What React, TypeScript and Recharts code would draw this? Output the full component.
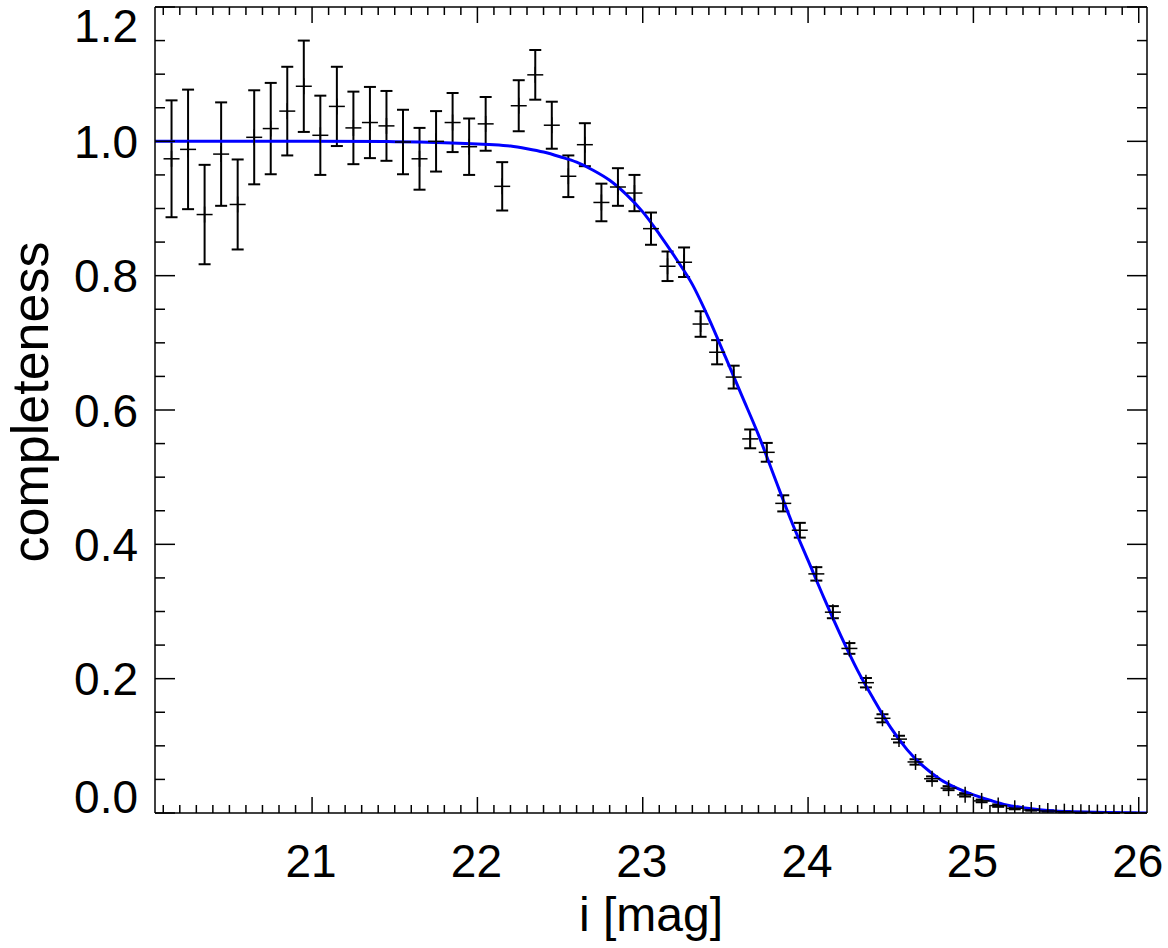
import React from 'react';
import { ComposedChart, XAxis, YAxis, Scatter, Line, ErrorBar } from 'recharts';

const FONT = '"Liberation Sans", Arial, Helvetica, sans-serif';

// Binned completeness measurements
const BIN_MAG = [
  20.15, 20.25, 20.35, 20.45, 20.55, 20.65, 20.75, 20.85, 20.95, 21.05,
  21.15, 21.25, 21.35, 21.45, 21.55, 21.65, 21.75, 21.85, 21.95, 22.05,
  22.15, 22.25, 22.35, 22.45, 22.55, 22.65, 22.75, 22.85, 22.95, 23.05,
  23.15, 23.25, 23.35, 23.45, 23.55, 23.65, 23.75, 23.85, 23.95, 24.05,
  24.15, 24.25, 24.35, 24.45, 24.55, 24.65, 24.75, 24.85, 24.95, 25.05,
  25.15, 25.25, 25.35, 25.45, 25.55, 25.65, 25.75, 25.85, 25.95,
];
const BIN_COMPLETENESS = [
  0.974, 0.988, 0.891, 0.981, 0.906, 1.006, 1.019, 1.045, 1.082, 1.009,
  1.052, 1.020, 1.028, 1.023, 0.999, 0.974, 1.000, 1.028, 0.992, 1.026,
  0.933, 1.053, 1.099, 1.024, 0.948, 0.995, 0.909, 0.932, 0.923, 0.870,
  0.814, 0.820, 0.728, 0.686, 0.649, 0.557, 0.537, 0.461, 0.421, 0.356,
  0.299, 0.245, 0.194, 0.141, 0.110, 0.076, 0.051, 0.037, 0.027, 0.018,
  0.011, 0.007, 0.0045, 0.003, 0.002, 0.001, 0.0007, 0.0004, 0.0002,
];
const BIN_ERROR = [
  0.087, 0.089, 0.074, 0.077, 0.067, 0.070, 0.068, 0.066, 0.068, 0.059,
  0.059, 0.054, 0.053, 0.052, 0.048, 0.046, 0.045, 0.044, 0.042, 0.040,
  0.036, 0.038, 0.037, 0.035, 0.031, 0.032, 0.028, 0.028, 0.027, 0.024,
  0.022, 0.022, 0.019, 0.018, 0.017, 0.014, 0.014, 0.012, 0.011, 0.010,
  0.009, 0.008, 0.007, 0.006, 0.005, 0.004, 0.0035, 0.003, 0.0025, 0.002,
  0.0018, 0.0015, 0.001, 0.001, 0.0008, 0.0006, 0.0005, 0.0003, 0.0002,
];

// Fitted completeness curve
const FIT_MAG = [
  20.05, 20.5, 21.0, 21.5, 21.8, 22.0, 22.1, 22.2, 22.3, 22.4,
  22.5, 22.6, 22.7, 22.8, 22.9, 23.0, 23.1, 23.2, 23.3, 23.4,
  23.5, 23.6, 23.7, 23.8, 23.9, 24.0, 24.1, 24.2, 24.3, 24.4,
  24.5, 24.6, 24.7, 24.8, 24.9, 25.0, 25.1, 25.2, 25.3, 25.4,
  25.5, 25.6, 25.8, 26.05,
];
const FIT_COMPLETENESS = [
  1.0, 1.0, 1.0, 0.9995, 0.998, 0.996, 0.995, 0.993, 0.989, 0.984,
  0.977, 0.969, 0.957, 0.942, 0.921, 0.895, 0.862, 0.826, 0.787, 0.736,
  0.679, 0.621, 0.563, 0.498, 0.434, 0.376, 0.318, 0.263, 0.212, 0.168,
  0.127, 0.094, 0.069, 0.050, 0.037, 0.027, 0.019, 0.012, 0.008, 0.005,
  0.003, 0.002, 0.0007, 0.0001,
];

const X_DOMAIN: [number, number] = [20.05, 26.05];
const Y_DOMAIN: [number, number] = [0, 1.2];
const X_TICKS = Array.from({ length: 60 }, (_, i) => Math.round((20.1 + i * 0.1) * 10) / 10);
const Y_TICKS = Array.from({ length: 25 }, (_, i) => Math.round(i * 5) / 100);

const binData = BIN_MAG.map((m, i) => ({ x: m, y: BIN_COMPLETENESS[i], err: BIN_ERROR[i] }));
const fitData = FIT_MAG.map((m, i) => ({ x: m, y: FIT_COMPLETENESS[i] }));

const isMajorX = (v: number) => Math.abs(v - Math.round(v)) < 1e-6;
const isMajorY = (v: number) => Math.abs(v * 5 - Math.round(v * 5)) < 1e-6;

const TICK_W = 1.5;

const BottomTick = (p: any) => {
  const v = p.payload.value;
  const major = isMajorX(v);
  return (
    <g>
      <line x1={p.x} y1={p.y} x2={p.x} y2={p.y - (major ? 16 : 8)} stroke="#000" strokeWidth={TICK_W} />
      {major && (
        <text x={p.x - 1} y={p.y + 64} textAnchor="middle" fontSize={46} fontFamily={FONT} fill="#000">
          {String(Math.round(v))}
        </text>
      )}
    </g>
  );
};

const TopTick = (p: any) => {
  const v = p.payload.value;
  const major = isMajorX(v);
  return <line x1={p.x} y1={p.y} x2={p.x} y2={p.y + (major ? 16 : 8)} stroke="#000" strokeWidth={TICK_W} />;
};

const LeftTick = (p: any) => {
  const v = p.payload.value;
  const major = isMajorY(v);
  let dy = 16.5;
  if (v >= 1.2 - 1e-6) dy = 35;
  if (v <= 1e-6) dy = 0;
  return (
    <g>
      <line x1={p.x} y1={p.y} x2={p.x + (major ? 20 : 10)} y2={p.y} stroke="#000" strokeWidth={TICK_W} />
      {major && (
        <text x={p.x - 17} y={p.y + dy} textAnchor="end" fontSize={46} fontFamily={FONT} fill="#000">
          {v.toFixed(1)}
        </text>
      )}
    </g>
  );
};

const RightTick = (p: any) => {
  const v = p.payload.value;
  const major = isMajorY(v);
  return <line x1={p.x} y1={p.y} x2={p.x - (major ? 20 : 10)} y2={p.y} stroke="#000" strokeWidth={TICK_W} />;
};

const XTitle = (p: any) => {
  const vb = p.viewBox || { x: 155, y: 813, width: 992, height: 135 };
  return (
    <text x={vb.x + vb.width / 2} y={vb.y + 118} textAnchor="middle" fontSize={48} fontFamily={FONT} fill="#000">
      i [mag]
    </text>
  );
};

const YTitle = (p: any) => {
  const vb = p.viewBox || { x: 0, y: 7, width: 155, height: 806 };
  const cx = vb.x + 30;
  const cy = vb.y + vb.height / 2 - 8;
  return (
    <text
      x={cx}
      y={cy}
      transform={`rotate(-90, ${cx}, ${cy})`}
      textAnchor="middle"
      dominantBaseline="central"
      fontSize={52}
      fontFamily={FONT}
      fill="#000"
    >
      completeness
    </text>
  );
};

const PlusShape = (p: any) => {
  const { cx, cy } = p;
  if (cx == null || cy == null) return <g />;
  return (
    <g>
      <line x1={cx - 8} y1={cy} x2={cx + 8} y2={cy} stroke="#000" strokeWidth={1.5} />
      <line x1={cx} y1={cy - 8} x2={cx} y2={cy + 8} stroke="#000" strokeWidth={1.5} />
    </g>
  );
};

const axisLine = { stroke: '#000', strokeWidth: 1.5 };

export default function App() {
  return (
    <div style={{ position: 'absolute', left: 0, top: 0, width: 1168, height: 948, background: '#fff' }}>
      <ComposedChart width={1168} height={948} margin={{ top: 0, right: 0, bottom: 0, left: 0 }}>
        <XAxis
          xAxisId="bottom"
          dataKey="x"
          type="number"
          orientation="bottom"
          domain={X_DOMAIN}
          allowDataOverflow
          ticks={X_TICKS}
          interval={0}
          height={135}
          tickSize={0}
          tickMargin={0}
          tickLine={false}
          axisLine={axisLine}
          tick={<BottomTick />}
          label={<XTitle />}
        />
        <XAxis
          xAxisId="top"
          dataKey="x"
          type="number"
          orientation="top"
          domain={X_DOMAIN}
          allowDataOverflow
          ticks={X_TICKS}
          interval={0}
          height={7}
          tickSize={0}
          tickMargin={0}
          tickLine={false}
          axisLine={axisLine}
          tick={<TopTick />}
        />
        <YAxis
          yAxisId="left"
          dataKey="y"
          type="number"
          orientation="left"
          domain={Y_DOMAIN}
          allowDataOverflow
          ticks={Y_TICKS}
          interval={0}
          width={155}
          tickSize={0}
          tickMargin={0}
          tickLine={false}
          axisLine={axisLine}
          tick={<LeftTick />}
          label={<YTitle />}
        />
        <YAxis
          yAxisId="right"
          dataKey="y"
          type="number"
          orientation="right"
          domain={Y_DOMAIN}
          allowDataOverflow
          ticks={Y_TICKS}
          interval={0}
          width={21}
          tickSize={0}
          tickMargin={0}
          tickLine={false}
          axisLine={axisLine}
          tick={<RightTick />}
        />
        <Scatter
          xAxisId="bottom"
          yAxisId="left"
          data={binData}
          dataKey="y"
          shape={<PlusShape />}
          isAnimationActive={false}
        >
          <ErrorBar dataKey="err" direction="y" width={6} stroke="#000" strokeWidth={2} isAnimationActive={false} />
        </Scatter>
        <Line
          xAxisId="bottom"
          yAxisId="left"
          data={fitData}
          dataKey="y"
          type="monotone"
          stroke="#0000ff"
          strokeWidth={3}
          dot={false}
          activeDot={false}
          isAnimationActive={false}
        />
      </ComposedChart>
    </div>
  );
}
